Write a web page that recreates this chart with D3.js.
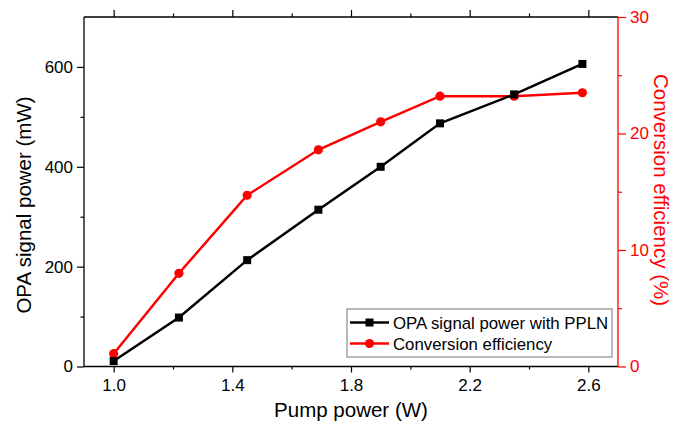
<!DOCTYPE html>
<html><head><meta charset="utf-8">
<script src="https://cdn.jsdelivr.net/npm/d3@7"></script>
<style>body{margin:0;background:#fff}svg{display:block;font-family:"Liberation Sans",Arial,sans-serif}</style>
</head><body>
<svg id="c" width="674" height="425"></svg>
<script>
const pump = [1.0, 1.22, 1.45, 1.69, 1.9, 2.1, 2.35, 2.58];
const signal = [11, 98, 213, 314, 400, 487, 545, 606];
const efficiency = [1.1, 8.0, 14.7, 18.6, 21.0, 23.2, 23.2, 23.5];
const xMajor = [1.0, 1.4, 1.8, 2.2, 2.6];
const xMinor = [1.2, 1.6, 2.0, 2.4];
const yMajor = [0, 200, 400, 600];
const yMinor = [100, 300, 500];
const y2Major = [0, 10, 20, 30];
const y2Minor = [5, 15, 25];
const seriesNames = ["OPA signal power with PPLN", "Conversion efficiency"];

const svg = d3.select("#c");
const L = 84, R = 618, T = 17, B = 366.5;
const x = d3.scaleLinear().domain([0.9, 2.7]).range([L, R]);
const y = d3.scaleLinear().domain([0, 700]).range([B, T]);
const y2 = d3.scaleLinear().domain([0, 30]).range([B, T]);
const red = "#ff0000";
const fmt1 = d3.format(".1f");

function axisStyle(g, color) {
  g.select(".domain").remove();
  g.selectAll("line").attr("stroke", color).attr("stroke-width", 1.2);
  g.selectAll("text").attr("fill", color).style("font-size", "17px").style("font-family", "'Liberation Sans',Arial,sans-serif");
}

// bottom axis
svg.append("g").attr("transform", `translate(0,${B})`)
  .call(d3.axisBottom(x).tickValues(xMajor).tickFormat(fmt1).tickSize(6).tickPadding(6))
  .call(g => axisStyle(g, "#000"));
svg.append("g").attr("transform", `translate(0,${B})`)
  .call(d3.axisBottom(x).tickValues(xMinor).tickFormat("").tickSize(3))
  .call(g => axisStyle(g, "#000"));
// top axis
svg.append("g").attr("transform", `translate(0,${T})`)
  .call(d3.axisTop(x).tickValues(xMajor).tickFormat("").tickSize(7))
  .call(g => axisStyle(g, "#000"));
svg.append("g").attr("transform", `translate(0,${T})`)
  .call(d3.axisTop(x).tickValues(xMinor).tickFormat("").tickSize(3.5))
  .call(g => axisStyle(g, "#000"));
// left axis
svg.append("g").attr("transform", `translate(${L},0)`)
  .call(d3.axisLeft(y).tickValues(yMajor).tickFormat(d3.format("d")).tickSize(7).tickPadding(4))
  .call(g => axisStyle(g, "#000"));
svg.append("g").attr("transform", `translate(${L},0)`)
  .call(d3.axisLeft(y).tickValues(yMinor).tickFormat("").tickSize(3.5))
  .call(g => axisStyle(g, "#000"));
// right axis
svg.append("g").attr("transform", `translate(${R},0)`)
  .call(d3.axisRight(y2).tickValues(y2Major).tickFormat(d3.format("d")).tickSize(8).tickPadding(4))
  .call(g => axisStyle(g, red));
svg.append("g").attr("transform", `translate(${R},0)`)
  .call(d3.axisRight(y2).tickValues(y2Minor).tickFormat("").tickSize(4))
  .call(g => axisStyle(g, red));

// frame lines
svg.append("line").attr("x1", L).attr("x2", R).attr("y1", T).attr("y2", T).attr("stroke", "#000").attr("stroke-width", 1.3);
svg.append("line").attr("x1", L).attr("x2", R).attr("y1", B).attr("y2", B).attr("stroke", "#000").attr("stroke-width", 1.3);
svg.append("line").attr("x1", L).attr("x2", L).attr("y1", T).attr("y2", B).attr("stroke", "#000").attr("stroke-width", 1.3);
svg.append("line").attr("x1", R).attr("x2", R).attr("y1", T).attr("y2", B).attr("stroke", red).attr("stroke-width", 1.3);

// series
const pts1 = pump.map((p, i) => [p, signal[i]]);
const pts2 = pump.map((p, i) => [p, efficiency[i]]);
svg.append("path").datum(pts2).attr("fill", "none").attr("stroke", red).attr("stroke-width", 2.5)
  .attr("d", d3.line().x(d => x(d[0])).y(d => y2(d[1])));
svg.selectAll(".dot").data(pts2).enter().append("circle")
  .attr("cx", d => x(d[0])).attr("cy", d => y2(d[1])).attr("r", 4.6).attr("fill", red);
svg.append("path").datum(pts1).attr("fill", "none").attr("stroke", "#000").attr("stroke-width", 2.5)
  .attr("d", d3.line().x(d => x(d[0])).y(d => y(d[1])));
svg.selectAll(".sq").data(pts1).enter().append("rect")
  .attr("x", d => x(d[0]) - 4).attr("y", d => y(d[1]) - 4).attr("width", 8).attr("height", 8).attr("fill", "#000");

// axis titles
svg.append("text").attr("transform", "translate(31,205) rotate(-90)").attr("text-anchor", "middle")
  .style("font-size", "20.5px").attr("fill", "#000").text("OPA signal power (mW)");
svg.append("text").attr("transform", "translate(654,190) rotate(90)").attr("text-anchor", "middle")
  .style("font-size", "20.5px").attr("fill", red).text("Conversion efficiency (%)");
svg.append("text").attr("x", 351).attr("y", 417).attr("text-anchor", "middle")
  .style("font-size", "20.5px").attr("fill", "#000").text("Pump power (W)");

// legend
const lg = svg.append("g");
lg.append("rect").attr("x", 347).attr("y", 309).attr("width", 265).attr("height", 48)
  .attr("fill", "#fff").attr("stroke", "#777").attr("stroke-width", 1);
const rows = [{c: "#000", shape: "sq", yy: 322.5}, {c: red, shape: "ci", yy: 343.5}];
rows.forEach((r, i) => {
  lg.append("line").attr("x1", 350).attr("x2", 389).attr("y1", r.yy).attr("y2", r.yy).attr("stroke", r.c).attr("stroke-width", 2.5);
  if (r.shape === "sq") lg.append("rect").attr("x", 365.5).attr("y", r.yy - 4).attr("width", 8).attr("height", 8).attr("fill", r.c);
  else lg.append("circle").attr("cx", 369.5).attr("cy", r.yy).attr("r", 4.6).attr("fill", r.c);
  lg.append("text").attr("x", 393).attr("y", r.yy + 6).style("font-size", "16.8px").attr("fill", "#000").text(seriesNames[i]);
});
</script>
</body></html>
